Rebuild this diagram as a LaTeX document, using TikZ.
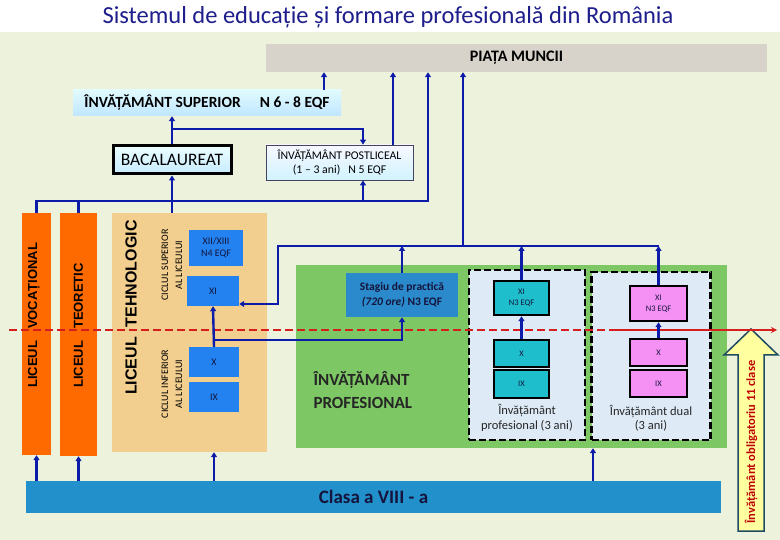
\documentclass[tikz,border=0pt]{standalone}
\usepackage{fontspec}
\setmainfont{Carlito}
\newfontfamily\arialfont{Liberation Sans}
\usetikzlibrary{arrows.meta}

\definecolor{bgpale}{RGB}{237,242,221}
\definecolor{navytitle}{RGB}{30,30,140}
\definecolor{piatagray}{RGB}{216,211,202}
\definecolor{linkblue}{RGB}{12,28,168}
\definecolor{orangebar}{RGB}{255,106,0}
\definecolor{tanbox}{RGB}{243,207,143}
\definecolor{brightblue}{RGB}{35,130,240}
\definecolor{greenarea}{RGB}{125,200,100}
\definecolor{stagiublue}{RGB}{43,138,203}
\definecolor{dashfill}{RGB}{222,235,247}
\definecolor{cyanbox}{RGB}{30,190,205}
\definecolor{pinkbox}{RGB}{245,145,245}
\definecolor{clasablue}{RGB}{34,144,203}
\definecolor{redline}{RGB}{214,30,30}
\definecolor{arrowyellow}{RGB}{255,255,160}
\definecolor{arrowedge}{RGB}{30,75,95}
\definecolor{arrowtext}{RGB}{190,0,0}
\definecolor{darktext}{RGB}{20,20,60}

\tikzset{
  box/.style={rectangle, inner sep=0pt, align=center},
  classbox/.style={box, fill=brightblue, text=darktext, minimum width=52pt, font=\fontsize{10}{12}\selectfont},
  yearbox/.style={box, fill=#1, draw=black, line width=2.5pt, minimum width=55pt, text=darktext, font=\fontsize{8.5}{11}\selectfont},
  pathbox/.style={box, fill=dashfill, draw=black, line width=2.5pt, dash pattern=on 7pt off 3pt},
  lyceum/.style={box, fill=orangebar},
  sidetext/.style={rotate=90, anchor=west, inner sep=0pt, font=\arialfont\bfseries\fontsize{13}{15}\selectfont},
  link/.style={draw=linkblue, line width=2.4pt},
  arr/.style={-{Triangle[length=5pt,width=6pt]}}
}

\begin{document}
\begin{tikzpicture}[x=1pt,y=-1pt]
\useasboundingbox (0,0) rectangle (780,540);
\fill[white] (0,0) rectangle (780,540);
\fill[bgpale] (0,32) rectangle (780,540);

\node[font=\fontsize{24.5}{27}\selectfont, text=navytitle] (title) at (388,17) {Sistemul de educație și formare profesională din România};

\node[box, fill=piatagray, minimum width=501pt, minimum height=28pt, font=\bfseries\fontsize{16}{18}\selectfont] (piata) at (516.5,58) {PIAȚA MUNCII};
\node[box, top color=blue!12!cyan!12, bottom color=blue!40!cyan!25, minimum width=268pt, minimum height=26pt, font=\bfseries\fontsize{15.5}{17}\selectfont] (superior) at (207,103) {ÎNVĂȚĂMÂNT SUPERIOR \quad N 6 - 8 EQF};
\node[box, top color=blue!8!cyan!8, bottom color=blue!35!cyan!22, draw=black, line width=3pt, minimum width=118pt, minimum height=28pt, font=\fontsize{17.5}{19}\selectfont] (bac) at (172,160) {BACALAUREAT};
\node[box, top color=blue!3!white, bottom color=blue!25!cyan!18, draw=darktext!80, line width=0.8pt, minimum width=147pt, minimum height=35pt, font=\fontsize{11.8}{14}\selectfont] (postliceal) at (339.5,162.5) {ÎNVĂȚĂMÂNT POSTLICEAL\\(1 -- 3 ani) \ \ N 5 EQF};

\node[lyceum, minimum width=29pt, minimum height=242pt] (vocational) at (36.5,334) {};
\node[lyceum, minimum width=37pt, minimum height=243pt] (teoretic) at (78.5,334.5) {};
\node[box, fill=tanbox, minimum width=155pt, minimum height=239pt] (tehnologic) at (189.5,332.5) {};
\node[sidetext] (voctext) at (34,388) {LICEUL\hspace{12pt}VOCAȚIONAL};
\node[sidetext] (teotext) at (78.5,388) {LICEUL\hspace{12pt}TEORETIC};
\node[sidetext, font=\arialfont\bfseries\fontsize{16}{18}\selectfont] (tehtext) at (131,395) {LICEUL\hspace{10pt}TEHNOLOGIC};
\node[rotate=90, align=center, font=\fontsize{10}{14}\selectfont] (ciclsup) at (172,265) {CICLUL SUPERIOR\\AL LICEULUI};
\node[rotate=90, align=center, font=\fontsize{10}{14}\selectfont] (ciclinf) at (172,384) {CICLUL INFERIOR\\AL LICEULUI};
\node[classbox, minimum width=54pt, minimum height=36pt] (xii) at (216,248) {XII/XIII\\N4 EQF};
\node[classbox, minimum height=30pt] (xi_t) at (213,291) {XI};
\node[classbox, minimum width=50pt, minimum height=30pt] (x_t) at (214,362) {X};
\node[classbox, minimum width=50pt, minimum height=30pt] (ix_t) at (214,397) {IX};

\node[box, fill=greenarea, minimum width=431pt, minimum height=183pt] (green) at (511.5,356.5) {};
\node[box, fill=stagiublue, minimum width=112pt, minimum height=44pt, text=darktext, font=\bfseries\fontsize{11.5}{15}\selectfont] (stagiu) at (402,295) {Stagiu de practică\\\textit{(720 ore)} N3 EQF};
\node[anchor=west, align=left, text=black!85, font=\bfseries\fontsize{17}{23}\selectfont] (proftext) at (310,390.5) {ÎNVĂȚĂMÂNT\\PROFESIONAL};
\node[pathbox, minimum width=116pt, minimum height=170pt] (profbox) at (527,355) {};
\node[pathbox, minimum width=119pt, minimum height=168pt] (dualbox) at (651,356) {};
\node[yearbox=cyanbox, minimum height=34pt] (cxi) at (521.5,298) {XI\\N3 EQF};
\node[yearbox=cyanbox, minimum height=27pt] (cx) at (521.5,353.5) {X};
\node[yearbox=cyanbox, minimum height=28pt] (cix) at (521.5,384) {IX};
\node[yearbox=pinkbox, minimum width=57pt, minimum height=35pt] (pxi) at (658.5,303.5) {XI\\N3 EQF};
\node[yearbox=pinkbox, minimum width=57pt, minimum height=27pt] (px) at (658.5,352.5) {X};
\node[yearbox=pinkbox, minimum width=57pt, minimum height=27pt] (pix) at (658.5,383.5) {IX};
\node[align=center, text=black!85, font=\fontsize{12.5}{14.5}\selectfont] (proflabel) at (527,418) {Învățământ\\profesional (3 ani)};
\node[align=center, text=black!85, font=\fontsize{12.5}{14.5}\selectfont] (duallabel) at (651,418) {Învățământ dual\\(3 ani)};

\node[box, fill=clasablue, minimum width=695pt, minimum height=32pt, text=darktext, font=\bfseries\fontsize{19}{21}\selectfont] (clasa) at (373.5,497) {Clasa a VIII - a};

\draw[draw=arrowedge, line width=1.5pt, fill=arrowyellow] (738,531) -- (738,355) -- (724,355) -- (751,329) -- (778,355) -- (764,355) -- (764,531) -- cycle;
\node[rotate=90, text=arrowtext, font=\bfseries\fontsize{12.5}{14}\selectfont] (oblig) at (751,442) {Învățământ obligatoriu 11 clase};

\coordinate (redA) at (9,330);
\coordinate (redB) at (617,330);
\coordinate (redC) at (777,330);
\draw[redline, line width=2pt, dash pattern=on 8pt off 4pt] (redA) -- (redB);
\draw[redline, line width=2pt, -{Stealth[length=6pt,width=6pt]}] (redB) -- (redC);

\coordinate (xa) at (324,0);
\coordinate (xb) at (393,0);
\coordinate (xc) at (428,0);
\coordinate (xd) at (463,0);
\coordinate (xpl) at (363,0);
\coordinate (xturn) at (278,0);
\coordinate (xgreen) at (593,0);
\coordinate (ysup) at (0,129);
\coordinate (ylic) at (0,201);
\coordinate (ypro) at (0,246);
\coordinate (yxi) at (0,304);
\coordinate (ybr) at (0,340);

\draw[link,arr] (superior.north -| xa) -- (piata.south -| xa);
\draw[link,arr] (postliceal.north -| xb) -- (piata.south -| xb);
\draw[link,arr] (vocational.north) -- (vocational.north |- ylic) -- (ylic -| xc) -- (piata.south -| xc);
\draw[link] (teoretic.north) -- (teoretic.north |- ylic);
\draw[link,arr] (tehnologic.north -| bac) -- (bac.south);
\draw[link,arr] (ylic -| xpl) -- (postliceal.south -| xpl);
\draw[link,arr] (bac.north) -- (superior.south -| bac);
\draw[link,arr] (bac.north |- ysup) -| (postliceal.north -| xpl);
\draw[link,arr] (ypro -| xd) -- (piata.south -| xd);
\draw[link,arr] (ypro -| pxi) -- (ypro -| xturn) -- (yxi -| xturn) -- (xi_t.east |- yxi);
\draw[link,arr] (stagiu.north) -- (stagiu.north |- ypro);
\draw[link,arr] (cxi.north) -- (cxi.north |- ypro);
\draw[link,arr] (pxi.north) -- (pxi.north |- ypro);
\draw[link,arr] (x_t.north) -- (xi_t.south);
\draw[link,arr] (x_t.north |- ybr) -| (stagiu.south);
\draw[link,arr] (cx.north) -- (cxi.south);
\draw[link,arr] (px.north) -- (pxi.south);
\draw[link,arr] (clasa.north -| vocational) -- (vocational.south);
\draw[link,arr] (clasa.north -| teoretic) -- (teoretic.south);
\draw[link,arr] (clasa.north -| ix_t) -- (tehnologic.south -| ix_t);
\draw[link,arr] (clasa.north -| xgreen) -- (green.south -| xgreen);
\end{tikzpicture}
\end{document}
